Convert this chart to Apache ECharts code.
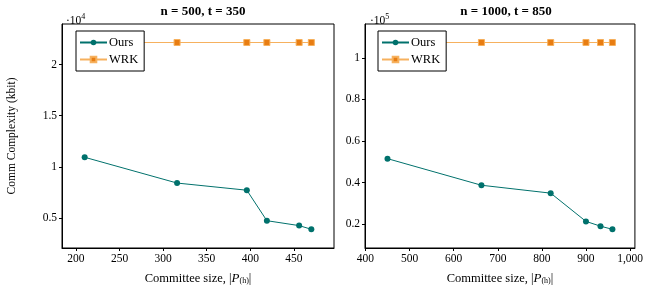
<!DOCTYPE html>
<html>
<head>
<meta charset="utf-8">
<script src="https://cdn.jsdelivr.net/npm/echarts@6/dist/echarts.min.js"></script>
<style>
html, body { margin: 0; padding: 0; background: #fff; }
#container { width: 646px; height: 290px; }
</style>
</head>
<body>
<div id="container"></div>
<script>
// left panel: n = 500, t = 350
var sizesA = [210, 316, 396, 419, 456, 470];
var oursA = [10940, 8420, 7720, 4740, 4260, 3900];
var wrkA = [22160, 22160, 22160, 22160, 22160, 22160];
// right panel: n = 1000, t = 850
var sizesB = [450, 663, 820, 900, 933, 960];
var oursB = [51500, 38700, 34900, 21300, 19000, 17500];
var wrkB = [107400, 107400, 107400, 107400, 107400, 107400];

var xTicksA = [200, 250, 300, 350, 400, 450];
var yTicksA = [5000, 10000, 15000, 20000];
var xTicksB = [400, 500, 600, 700, 800, 900, 1000];
var yTicksB = [20000, 40000, 60000, 80000, 100000];

var teal = '#00716c';
var orange = '#e87d12';
var orangeLine = '#f6b15e';
var font = 'Liberation Serif';

function pairs(xs, ys) {
    return xs.map(function (x, i) { return [x, ys[i]]; });
}

function xAxis(idx, min, max, ticks) {
    return {
        gridIndex: idx, type: 'value', min: min, max: max,
        name: 'Committee size, |{p|P}{s|(h)}|', nameLocation: 'middle', nameGap: 24,
        nameTextStyle: {
            fontFamily: font, fontSize: 12.5, color: '#000',
            rich: {
                p: { fontFamily: font, fontSize: 13, fontStyle: 'italic', color: '#000' },
                s: { fontFamily: font, fontSize: 8, color: '#000', verticalAlign: 'bottom', padding: [5, 0, 0, 0] }
            }
        },
        axisLine: { lineStyle: { color: '#000' } },
        axisTick: { customValues: ticks, length: 3, lineStyle: { color: '#000' } },
        axisLabel: {
            customValues: ticks, fontFamily: font, fontSize: 11.5, color: '#000', margin: 5,
            formatter: function (v) { return v >= 1000 ? '1,000' : String(v); }
        },
        splitLine: { show: false }
    };
}

function yAxis(idx, min, max, ticks, div, withName) {
    return {
        gridIndex: idx, type: 'value', min: min, max: max,
        name: withName ? 'Comm Complexity (kbit)' : '', nameLocation: 'middle', nameGap: 44,
        nameTextStyle: { fontFamily: font, fontSize: 11.5, color: '#000' },
        axisLine: { lineStyle: { color: '#000' } },
        axisTick: { customValues: ticks, length: 3, lineStyle: { color: '#000' } },
        axisLabel: {
            customValues: ticks, fontFamily: font, fontSize: 11.5, color: '#000', margin: 5,
            formatter: function (v) { return String(Math.round(v / div * 10) / 10); }
        },
        splitLine: { show: false }
    };
}

function oursSeries(idx, data) {
    return {
        name: 'Ours', type: 'line', xAxisIndex: idx, yAxisIndex: idx, data: data,
        symbol: 'circle', symbolSize: 6, z: 3,
        lineStyle: { color: teal, width: 1 }, itemStyle: { color: teal }
    };
}

function wrkSeries(idx, data) {
    return {
        name: 'WRK', type: 'line', xAxisIndex: idx, yAxisIndex: idx, data: data,
        symbol: 'rect', symbolSize: 6, z: 3,
        lineStyle: { color: orangeLine, width: 1.2 },
        itemStyle: { color: orange, borderColor: orangeLine, borderWidth: 1 }
    };
}

function legend(left) {
    return {
        left: left, top: 31, orient: 'vertical', z: 10,
        data: ['Ours', 'WRK'], itemWidth: 27, itemHeight: 7, itemGap: 4,
        padding: [5, 6, 5, 3], backgroundColor: '#fff',
        borderColor: '#000', borderWidth: 1, borderRadius: 0,
        textStyle: { fontFamily: font, fontSize: 12.5, color: '#000', padding: [0, 0, 0, -3] },
        selectedMode: false
    };
}

var multRich = { s: { fontFamily: font, fontSize: 8, verticalAlign: 'top', padding: [0, 0, 7, 0], color: '#000' } };

var myChart = echarts.init(document.getElementById('container'));
var option = {
    animation: false,
    textStyle: { fontFamily: font },
    title: [
        { text: 'n = 500, t = 350', left: 198, top: 0, textAlign: 'center',
          textStyle: { fontFamily: font, fontSize: 13, fontWeight: 'bold', color: '#000' } },
        { text: 'n = 1000, t = 850', left: 501, top: 0, textAlign: 'center',
          textStyle: { fontFamily: font, fontSize: 13, fontWeight: 'bold', color: '#000' } },
        { text: '·10{s|4}', left: 61, top: 8,
          textStyle: { fontFamily: font, fontSize: 11.5, fontWeight: 'normal', color: '#000', rich: multRich } },
        { text: '·10{s|5}', left: 365, top: 8,
          textStyle: { fontFamily: font, fontSize: 11.5, fontWeight: 'normal', color: '#000', rich: multRich } }
    ],
    legend: [legend(76), legend(378)],
    grid: [
        { left: 62, top: 24, width: 272, height: 226, show: true, borderColor: '#000', borderWidth: 1 },
        { left: 365, top: 24, width: 271, height: 226, show: true, borderColor: '#000', borderWidth: 1 }
    ],
    xAxis: [xAxis(0, 184, 496, xTicksA), xAxis(1, 399, 1011, xTicksB)],
    yAxis: [yAxis(0, 2070, 23970, yTicksA, 10000, true), yAxis(1, 8500, 116300, yTicksB, 100000, false)],
    series: [
        oursSeries(0, pairs(sizesA, oursA)),
        wrkSeries(0, pairs(sizesA, wrkA)),
        oursSeries(1, pairs(sizesB, oursB)),
        wrkSeries(1, pairs(sizesB, wrkB))
    ]
};
myChart.setOption(option);
</script>
</body>
</html>
